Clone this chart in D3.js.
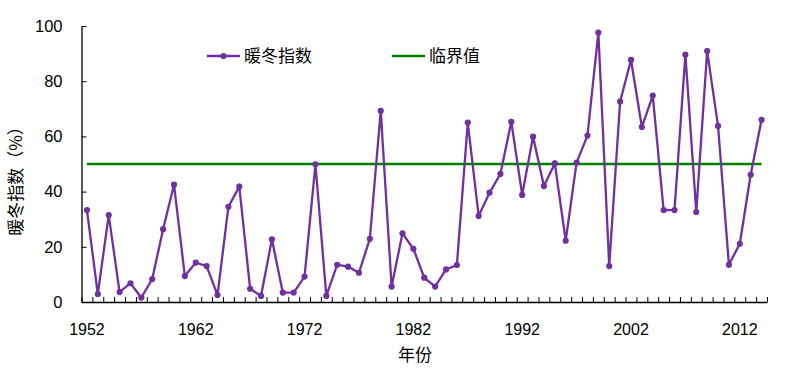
<!DOCTYPE html>
<html>
<head>
<meta charset="utf-8">
<script src="https://cdn.jsdelivr.net/npm/d3@7"></script>
<style>
  body { margin: 0; background: #fff; }
  text { font-family: "Liberation Sans", Arial, sans-serif; }
  .cjk { font-family: "Noto Sans CJK SC", sans-serif; }
</style>
</head>
<body>
<div id="chart"></div>
<script>
// winter warmth index by year
var years = d3.range(1952, 2015);
var warm_index = [
  33.3, 2.9, 31.5, 3.6, 6.8, 1.6, 8.3, 26.4, 42.5, 9.4,
  14.3, 13.0, 2.5, 34.5, 41.8, 4.8, 2.2, 22.7, 3.4, 3.4,
  9.2, 49.9, 2.2, 13.5, 12.8, 10.6, 22.9, 69.3, 5.6, 24.9,
  19.3, 8.8, 5.6, 11.8, 13.4, 65.0, 31.2, 39.6, 46.4, 65.3,
  38.8, 59.9, 42.0, 50.2, 22.2, 50.5, 60.3, 97.6, 13.0, 72.6,
  87.7, 63.4, 74.8, 33.3, 33.3, 89.6, 32.6, 90.9, 63.8, 13.5,
  21.1, 46.1, 66.0
];
var threshold = 50;
var x_labels = [1952, 1962, 1972, 1982, 1992, 2002, 2012];
var y_ticks = [0, 20, 40, 60, 80, 100];

var purple = "#7030a0";
var green = "#008000";

const width = 808;
const height = 370;
var plotLeft = 81.5, plotRight = 767, plotTop = 26, plotBottom = 302;

const svg = d3.select("#chart")
  .append("svg")
  .attr("width", width)
  .attr("height", height);

// year scale, one band per year
var x = d3.scaleLinear().domain([1951.5, 2014.5]).range([plotLeft, plotRight]);
var y = d3.scaleLinear().domain([0, 100]).range([plotBottom, plotTop]);

// x axis with small ticks between years pointing up
svg.append("g")
  .attr("transform", "translate(0," + plotBottom + ")")
  .call(d3.axisBottom(x).tickValues(d3.range(1951.5, 2015, 1)).tickSize(-5).tickSizeOuter(0).tickFormat(""))
  .call(function (g) {
    g.select(".domain").attr("stroke", "#000").attr("stroke-width", 1.3);
    g.selectAll(".tick line").attr("stroke", "#000");
  });

// year labels
svg.append("g")
  .selectAll("text")
  .data(x_labels)
  .enter()
  .append("text")
  .attr("x", function (d) { return x(d); })
  .attr("y", 335)
  .attr("text-anchor", "middle")
  .style("font-size", "16px")
  .text(function (d) { return d; });

// y axis, ticks pointing inside
svg.append("g")
  .attr("transform", "translate(" + plotLeft + ",0)")
  .call(d3.axisLeft(y).tickValues(y_ticks).tickSize(-5).tickSizeOuter(0).tickPadding(19))
  .call(function (g) {
    g.select(".domain").attr("stroke", "#000").attr("stroke-width", 1.3);
    g.selectAll(".tick line").attr("stroke", "#000");
    g.selectAll(".tick text")
      .style("font-size", "16.5px")
      .style("font-family", "'Liberation Sans', Arial, sans-serif")
      .attr("fill", "#000");
  });

// axis titles
svg.append("text")
  .attr("class", "cjk")
  .attr("x", 415)
  .attr("y", 361)
  .attr("text-anchor", "middle")
  .style("font-size", "17px")
  .text("年份");

svg.append("text")
  .attr("class", "cjk")
  .attr("transform", "translate(22,177) rotate(-90)")
  .attr("text-anchor", "middle")
  .style("font-size", "17px")
  .text("暖冬指数（%）");

// threshold line
svg.append("line")
  .attr("x1", x(years[0]))
  .attr("x2", x(years[years.length - 1]))
  .attr("y1", y(threshold))
  .attr("y2", y(threshold))
  .attr("stroke", green)
  .attr("stroke-width", 2.3);

// index line
var line = d3.line()
  .x(function (d, i) { return x(years[i]); })
  .y(function (d) { return y(d); });

svg.append("path")
  .datum(warm_index)
  .attr("fill", "none")
  .attr("stroke", purple)
  .attr("stroke-width", 2.3)
  .attr("d", line);

svg.append("g")
  .selectAll("circle")
  .data(warm_index)
  .enter()
  .append("circle")
  .attr("cx", function (d, i) { return x(years[i]); })
  .attr("cy", function (d) { return y(d); })
  .attr("r", 3.1)
  .attr("fill", purple);

// legend
var legend = svg.append("g");
legend.append("line")
  .attr("x1", 207).attr("x2", 240)
  .attr("y1", 56).attr("y2", 56)
  .attr("stroke", purple).attr("stroke-width", 2.3);
legend.append("circle")
  .attr("cx", 223.5).attr("cy", 56).attr("r", 3.1).attr("fill", purple);
legend.append("text")
  .attr("class", "cjk")
  .attr("x", 244).attr("y", 62)
  .style("font-size", "17px")
  .text("暖冬指数");

legend.append("line")
  .attr("x1", 392).attr("x2", 425)
  .attr("y1", 56).attr("y2", 56)
  .attr("stroke", green).attr("stroke-width", 2.3);
legend.append("text")
  .attr("class", "cjk")
  .attr("x", 429).attr("y", 62)
  .style("font-size", "17px")
  .text("临界值");
</script>
</body>
</html>
